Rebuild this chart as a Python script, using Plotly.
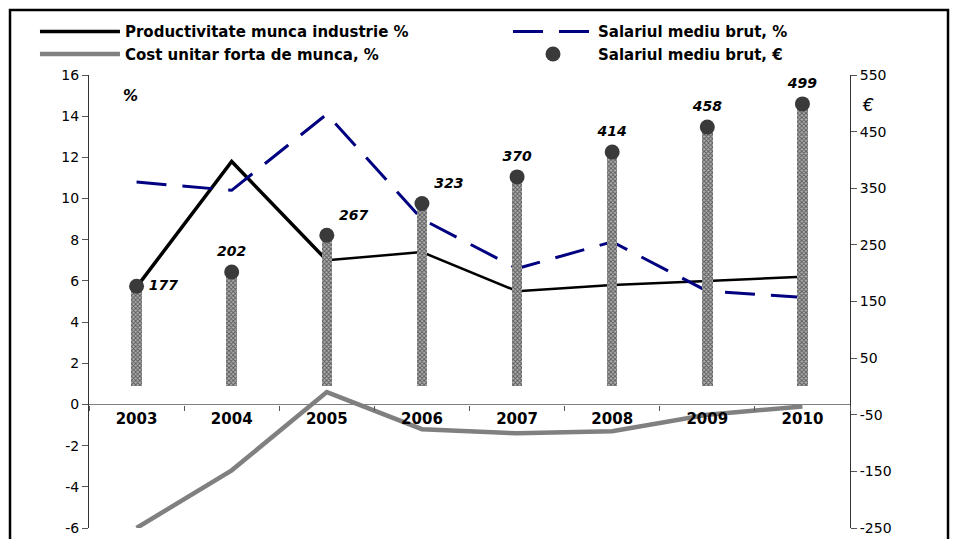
import plotly.graph_objects as go

years = ["2003", "2004", "2005", "2006", "2007", "2008", "2009", "2010"]
productivity = [5.7, 11.8, 7.0, 7.4, 5.5, 5.8, 6.0, 6.2]
wage_pct = [10.8, 10.4, 14.1, 9.0, 6.6, 7.9, 5.5, 5.2]
unit_cost = [-6.0, -3.2, 0.6, -1.2, -1.4, -1.3, -0.5, -0.1]
wage_eur = [177, 202, 267, 323, 370, 414, 458, 499]

left_ticks = [-6, -4, -2, 0, 2, 4, 6, 8, 10, 12, 14, 16]
left_labels = ["-6", "-4", "-2", "0", "2", "4", "6", "8", "10", "12", "14", "16"]
right_ticks = [-250, -150, -50, 50, 150, 250, 350, 450, 550]
right_labels = ["-250", "-150", "-50", "50", "150", "250", "350", "450", "550"]

FONT = "DejaVu Sans"
label_pos = ["middle right", "top center", "top right", "top right",
             "top center", "top center", "top center", "top center"]

fig = go.Figure()

# productivity: thicker first part, thinner after 2005 like the original
fig.add_trace(go.Scatter(
    x=years[:3], y=productivity[:3], mode="lines",
    name="Productivitate munca industrie %",
    line=dict(color="black", width=3.5), legend="legend",
))
fig.add_trace(go.Scatter(
    x=years[2:], y=productivity[2:], mode="lines",
    showlegend=False, line=dict(color="black", width=2.5),
))
fig.add_trace(go.Scatter(
    x=years, y=wage_pct, mode="lines",
    name="Salariul mediu brut, %",
    line=dict(color="#000080", width=3, dash="30px,16px"), legend="legend2",
))
fig.add_trace(go.Scatter(
    x=years, y=unit_cost, mode="lines",
    name="Cost unitar forta de munca, %",
    line=dict(color="#808080", width=4.5), legend="legend",
))

fig.add_trace(go.Bar(
    x=years, y=wage_eur, yaxis="y2", width=0.11, showlegend=False,
    marker=dict(
        color="white",
        line_width=0,
        pattern=dict(shape="x", fgcolor="black", bgcolor="#b0b0b0", size=3, solidity=0.5),
    ),
))
fig.add_trace(go.Scatter(
    x=years, y=wage_eur, yaxis="y2", mode="markers",
    name="Salariul mediu brut, €",
    marker=dict(size=15, color="#3a3a3a"), legend="legend2",
))
# labels, pushed away from the markers by an invisible marker
fig.add_trace(go.Scatter(
    x=years, y=wage_eur, yaxis="y2", mode="markers+text", showlegend=False,
    marker=dict(size=18, color="rgba(0,0,0,0)"),
    text=[str(v) for v in wage_eur], textposition=label_pos,
    textfont=dict(family=FONT, size=14, color="black", weight="bold", style="italic"),
))

axis_font = dict(family=FONT, size=14, color="black")
legend_font = dict(family=FONT, size=15, color="black", weight="bold")

# page body adds an 8px offset, so the figure is 8px smaller than the window
fig.update_layout(
    width=951,
    height=531,
    plot_bgcolor="white",
    paper_bgcolor="white",
    margin=dict(l=81, r=109, t=67, b=11, autoexpand=False),
    bargap=0,
    xaxis=dict(
        type="category",
        range=[-0.5, 7.5],
        anchor="free",
        position=6 / 22,
        showline=True, linecolor="#7f7f7f", linewidth=1.3,
        ticks="outside", tickson="boundaries", ticklen=5, tickcolor="#555",
        tickfont=dict(family=FONT, size=15, color="black", weight="bold"),
        showgrid=False, zeroline=False,
    ),
    yaxis=dict(
        range=[-6, 16], tickvals=left_ticks, ticktext=left_labels,
        showline=True, linecolor="#333", linewidth=1,
        ticks="outside", ticklen=6, tickcolor="#555",
        tickfont=axis_font, showgrid=False, zeroline=False,
    ),
    yaxis2=dict(
        range=[-250, 550], tickvals=right_ticks, ticktext=right_labels,
        overlaying="y", side="right", anchor="x",
        showline=True, linecolor="#333", linewidth=1,
        ticks="outside", ticklen=6, tickcolor="#555",
        tickfont=axis_font, showgrid=False, zeroline=False,
    ),
    legend=dict(
        x=-0.071, y=1.132, xanchor="left", yanchor="top",
        font=legend_font, itemwidth=80, bgcolor="rgba(0,0,0,0)", tracegroupgap=0,
    ),
    legend2=dict(
        x=0.5506, y=1.132, xanchor="left", yanchor="top",
        font=legend_font, itemwidth=80, bgcolor="rgba(0,0,0,0)", tracegroupgap=0,
    ),
    showlegend=True,
)

fig.add_annotation(
    x=0.055, y=0.954, xref="paper", yref="paper", text="%", showarrow=False,
    xanchor="center", yanchor="middle",
    font=dict(family=FONT, size=15, color="black", weight="bold", style="italic"),
)
fig.add_annotation(
    x=1.024, y=0.934, xref="paper", yref="paper", text="€", showarrow=False,
    xanchor="center", yanchor="middle",
    font=dict(family=FONT, size=17, color="black", style="italic"),
)

# outer frame of the original chart
fig.add_shape(
    type="rect", xref="paper", yref="paper",
    x0=-0.1038, x1=1.1288, y0=-0.2, y1=1.1435,
    line=dict(color="black", width=2.5), layer="above",
)

fig.write_html("out.html")
